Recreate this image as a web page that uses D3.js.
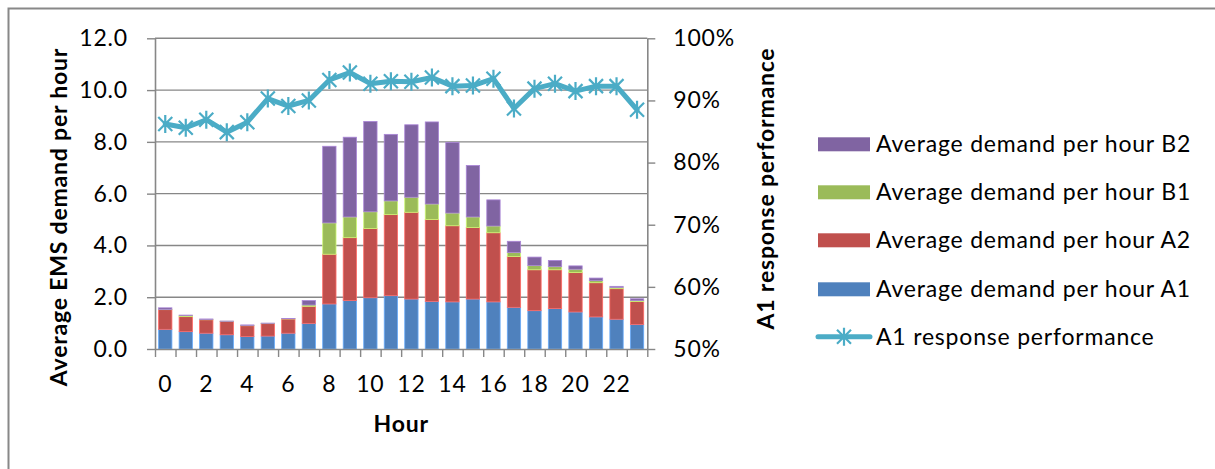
<!DOCTYPE html>
<html><head><meta charset="utf-8">
<script src="https://cdn.jsdelivr.net/npm/d3@7"></script>
<style>
body{margin:0;background:#fff}
text{font-family:Lato,"Open Sans",sans-serif;fill:#000;letter-spacing:0.8px}
</style></head>
<body>
<svg id="c" width="1215" height="469"></svg>
<script>
// ---- data ----
const hours = [0,1,2,3,4,5,6,7,8,9,10,11,12,13,14,15,16,17,18,19,20,21,22,23];
const demandA1 = [0.76,0.67,0.61,0.55,0.48,0.50,0.61,0.99,1.74,1.87,1.98,2.06,1.93,1.84,1.82,1.93,1.82,1.61,1.48,1.56,1.43,1.24,1.15,0.95];
const demandA2 = [0.76,0.58,0.52,0.51,0.42,0.48,0.55,0.66,1.92,2.43,2.67,3.13,3.35,3.16,2.94,2.76,2.67,1.96,1.58,1.50,1.52,1.32,1.18,0.88];
const demandB1 = [0.01,0.04,0.01,0.01,0.01,0.01,0.01,0.05,1.21,0.80,0.65,0.53,0.58,0.60,0.49,0.41,0.26,0.16,0.16,0.12,0.13,0.08,0.05,0.04];
const demandB2 = [0.06,0.02,0.02,0.01,0.02,0.01,0.01,0.17,2.96,3.08,3.49,2.57,2.80,3.17,2.73,1.99,1.01,0.43,0.33,0.24,0.13,0.10,0.04,0.07];
const performance = [0.862,0.856,0.869,0.849,0.865,0.903,0.891,0.900,0.933,0.945,0.927,0.931,0.930,0.937,0.923,0.924,0.935,0.887,0.919,0.927,0.915,0.923,0.923,0.885];
const yTickValues = [0,2,4,6,8,10,12];
const pTickValues = [0.5,0.6,0.7,0.8,0.9,1.0];
const xTickLabels = [0,2,4,6,8,10,12,14,16,18,20,22];
const seriesNames = ["Average demand per hour A1","Average demand per hour A2","Average demand per hour B1","Average demand per hour B2"];
const lineName = "A1 response performance";

// ---- layout ----
const L = 155, R = 647.3, T = 38.3, B = 349;
const colors = ["#4F81BD","#C0504D","#9BBB59","#8064A2"];
const lineColor = "#4BACC6";
const gridColor = "#878787";
const FS = 23;

const svg = d3.select("#c");
svg.append("rect").attr("x",8.5).attr("y",8.5).attr("width",1400).attr("height",700)
  .attr("fill","none").attr("stroke","#888").attr("stroke-width",2);

const x = d3.scaleBand().domain(hours).range([L,R]).padding(0);
const xb = d3.scaleLinear().domain([0,hours.length]).range([L,R]);
const y = d3.scaleLinear().domain([0,12]).range([B,T]);
const p = d3.scaleLinear().domain([0.5,1]).range([B,T]);

// gridlines
svg.append("g").selectAll("line").data(yTickValues.filter(d=>d>0)).join("line")
  .attr("x1",L).attr("x2",R).attr("y1",d=>y(d)).attr("y2",d=>y(d))
  .attr("stroke",gridColor).attr("stroke-width",1.4);

// stacked bars
const table = hours.map((h,i)=>({hour:h,A1:demandA1[i],A2:demandA2[i],B1:demandB1[i],B2:demandB2[i]}));
const keys = ["A1","A2","B1","B2"];
const stacked = d3.stack().keys(keys)(table);
const bw = x.bandwidth()*0.65;
svg.append("g").selectAll("g").data(stacked).join("g")
  .attr("fill",(d,i)=>colors[i])
  .attr("stroke",(d,i)=>d3.color(colors[i]).brighter(0.8))
  .attr("stroke-width",0.8)
  .selectAll("rect").data(d=>d).join("rect")
  .attr("x",d=>x(d.data.hour)+x.bandwidth()/2-bw/2)
  .attr("width",bw)
  .attr("y",d=>y(d[1]))
  .attr("height",d=>Math.max(0,y(d[0])-y(d[1])));

// axes
const axisStyle = g=>{
  g.selectAll(".domain").attr("stroke",gridColor).attr("stroke-width",1.6);
  g.selectAll(".tick line").attr("stroke",gridColor).attr("stroke-width",1.4);
  g.selectAll("text").attr("font-size",FS).attr("fill","#000").style("font-family","Lato, sans-serif");
};
svg.append("g").attr("transform",`translate(${L},0)`)
  .call(d3.axisLeft(y).tickValues(yTickValues).tickFormat(d3.format(".1f")).tickSize(8).tickSizeOuter(0).tickPadding(19))
  .call(axisStyle);
svg.append("g").attr("transform",`translate(${R},0)`)
  .call(d3.axisRight(p).tickValues(pTickValues).tickFormat(d3.format(".0%")).tickSize(8).tickSizeOuter(0).tickPadding(18))
  .call(axisStyle);
svg.append("g").attr("transform",`translate(0,${B})`)
  .call(d3.axisBottom(xb).tickValues(d3.range(hours.length+1)).tickFormat("").tickSize(8).tickSizeOuter(0))
  .call(axisStyle);
// x labels
svg.append("g").selectAll("text").data(xTickLabels).join("text")
  .attr("x",d=>x(d)+x.bandwidth()/2).attr("y",384).attr("dy","0.35em")
  .attr("text-anchor","middle").attr("font-size",FS).text(d=>d);

// line
const line = d3.line().x((d,i)=>x(hours[i])+x.bandwidth()/2).y(d=>p(d));
svg.append("path").datum(performance).attr("d",line)
  .attr("fill","none").attr("stroke",lineColor).attr("stroke-width",5)
  .attr("stroke-linejoin","round").attr("stroke-linecap","round");
const star = "M0,-9V9M-7,-7L7,7M-7,7L7,-7";
svg.append("g").selectAll("path").data(performance).join("path")
  .attr("transform",(d,i)=>`translate(${x(hours[i])+x.bandwidth()/2},${p(d)})`)
  .attr("d",star).attr("fill","none").attr("stroke",lineColor).attr("stroke-width",2.2);

// titles
svg.append("text").attr("x",(L+R)/2).attr("y",431.5).attr("text-anchor","middle")
  .attr("font-size",FS).attr("font-weight","bold").text("Hour");
svg.append("text").attr("transform","translate(66.5,217) rotate(-90)").attr("text-anchor","middle")
  .attr("font-size",FS).attr("font-weight","bold").text("Average EMS demand per hour");
svg.append("text").attr("transform","translate(774,188.5) rotate(-90)").attr("text-anchor","middle")
  .attr("font-size",FS).attr("font-weight","bold").text("A1 response performance");

// legend
const legendY = [289.3,240.3,192.3,144.3];
const lg = svg.append("g");
seriesNames.forEach((n,i)=>{
  lg.append("rect").attr("x",818).attr("y",legendY[i]-7).attr("width",52).attr("height",14).attr("fill",colors[i]);
  lg.append("text").attr("x",876).attr("y",legendY[i]).attr("dy","0.35em").attr("font-size",FS).text(n);
});
const ly = 336.7;
lg.append("line").attr("x1",818).attr("x2",870).attr("y1",ly).attr("y2",ly)
  .attr("stroke",lineColor).attr("stroke-width",5).attr("stroke-linecap","round");
lg.append("path").attr("transform",`translate(844,${ly})`).attr("d",star)
  .attr("fill","none").attr("stroke",lineColor).attr("stroke-width",2.2);
lg.append("text").attr("x",876).attr("y",ly).attr("dy","0.35em").attr("font-size",FS).text(lineName);
</script>
</body></html>
